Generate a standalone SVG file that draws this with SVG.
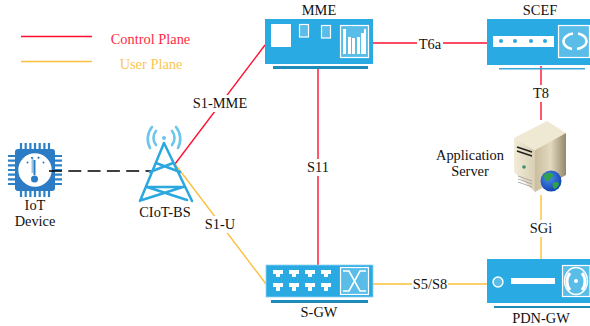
<svg xmlns="http://www.w3.org/2000/svg" width="590" height="326" viewBox="0 0 590 326">
<defs>
<linearGradient id="sf" x1="0" x2="1" y1="0" y2="0"><stop offset="0" stop-color="#f2ecd8"/><stop offset="1" stop-color="#d8cfb4"/></linearGradient>
<linearGradient id="ss" x1="0" x2="1" y1="0" y2="0"><stop offset="0" stop-color="#c9bd9c"/><stop offset="0.5" stop-color="#e2d9bf"/><stop offset="1" stop-color="#94886c"/></linearGradient>
<radialGradient id="gl" cx="0.4" cy="0.35" r="0.7"><stop offset="0" stop-color="#4f8cf0"/><stop offset="1" stop-color="#0d3fa8"/></radialGradient>
</defs>
<style>
text{font-family:"Liberation Serif","Times New Roman",serif;font-size:14.4px;fill:#111;text-anchor:middle}
.red{stroke:#ff0f2f;stroke-width:1.4;fill:none}
.yel{stroke:#fbbf3c;stroke-width:1.4;fill:none}
.box{fill:#2aaae2}
.bar{fill:#1d8cb8}
.w{fill:#fff}
.fr{fill:#5abde8;stroke:#fff;stroke-width:1.2}
.lb{fill:#fff}
.tw{stroke:#2aa8df;stroke-width:2.5;fill:none;stroke-linecap:round}
.ar{stroke:#6cc5ea;stroke-width:2.6;fill:none;stroke-linecap:round}
.pin{stroke:#2b82c8;stroke-width:2.2}
</style>
<g id="connectors">
<path class="red" d="M175 164L265 45"/>
<path class="yel" d="M175 164L266 284"/>
<path class="red" d="M318 69V265"/>
<path class="red" d="M373 43H487"/>
<path class="red" d="M541 66V120"/>
<path class="yel" d="M541 195V259"/>
<path class="yel" d="M373 284H487"/>
<rect class="lb" x="191" y="95" width="58" height="17"/><text x="220" y="108">S1-MME</text>
<rect class="lb" x="203" y="216" width="35" height="17"/><text x="220" y="229">S1-U</text>
<rect class="lb" x="305" y="159" width="26" height="17"/><text x="318" y="172">S11</text>
<rect class="lb" x="417" y="36" width="26" height="16"/><text x="430" y="49">T6a</text>
<rect class="lb" x="531" y="85" width="20" height="17"/><text x="541" y="98">T8</text>
<rect class="lb" x="528" y="220" width="26" height="17"/><text x="541" y="233">SGi</text>
<rect class="lb" x="412" y="276" width="36" height="17"/><text x="430" y="289">S5/S8</text>
</g>
<g id="legend">
<path class="red" d="M21 36.500H92"/>
<path class="yel" d="M21 61.500H92"/>
<text x="150.500" y="44" style="fill:#ff2a44">Control Plane</text>
<text x="151" y="69" style="fill:#fbc64f">User Plane</text>
</g>
<g id="iot-device">
<path class="pin" d="M21 143V197M25.700 143V197M30.400 143V197M35 143V197M39.700 143V197M44.400 143V197M49 143V197"/>
<path class="pin" d="M8 156H62M8 160.700H62M8 165.400H62M8 170H62M8 174.700H62M8 179.400H62M8 184H62"/>
<rect x="15" y="149" width="40" height="42" rx="3" fill="#2b7cc4"/>
<circle cx="35" cy="170" r="16.700" class="w"/>
<path d="M31.500 158h2v15h-2z" fill="#9cc3e0"/>
<circle cx="34.500" cy="179" r="3.500" fill="#2b7cc4"/>
<path d="M34.500 175V160" stroke="#2b7cc4" stroke-width="2"/>
<path d="M27 162l1 1M32 157v1.500M39 157l-1 1.500M44 162l-1 1" stroke="#2b7cc4" stroke-width="2"/>
<text x="35" y="210">IoT</text>
<text x="35" y="226">Device</text>
</g>
<path d="M49 171H152" stroke="#000" stroke-width="1.500" stroke-dasharray="13 6.300" fill="none"/>
<g id="ciot-bs">
<path class="tw" d="M164 143L140 201M164 143L192 201M156 163L180 172M173 163L150 172M147 187L187 200M183 187L142 200M147 187H184"/>
<path class="ar" d="M156 145a11 11 0 0 1 0-14M172 145a11 11 0 0 0 0-14M150 148a19 19 0 0 1 2-21M178 148a19 19 0 0 0-2-21"/>
<circle cx="164" cy="138" r="2" fill="#6cc5ea"/>
<text x="165" y="217">CIoT-BS</text>
</g>
<g id="mme">
<text x="319" y="15">MME</text>
<rect class="box" x="265" y="19" width="108" height="45"/>
<rect class="bar" x="273" y="66" width="95" height="3"/>
<rect class="w" x="271" y="24" width="20" height="23"/>
<rect class="fr" x="299.500" y="24.500" width="9" height="12.500"/>
<rect class="fr" x="321.500" y="25.500" width="9" height="12.500"/>
<rect class="fr" x="340.500" y="25.500" width="28" height="32"/>
<path class="w" d="M343 29h3v25h-3zM348 37h3v17h-3zM352 38h3v16h-3zM357 37h3v17h-3zM361 33h3v21h-3zM364 29h2v25h-2z"/>
</g>
<g id="scef">
<text x="540" y="15">SCEF</text>
<rect class="box" x="487" y="19" width="103" height="46"/>
<rect x="499" y="68" width="86" height="1.500" fill="#3aa8d6"/>
<rect class="w" x="493" y="36" width="61" height="11"/>
<g fill="#2aaae2"><circle cx="501" cy="41" r="2"/><circle cx="515" cy="41" r="2"/><circle cx="531" cy="41" r="2"/><circle cx="545" cy="41" r="2"/></g>
<rect class="fr" x="558.500" y="25.500" width="31" height="32"/>
<path d="M573 33.500A12 8 0 0 0 572 49M578 33.500A12 8 0 0 1 577 49" stroke="#fff" stroke-width="2.600" fill="none"/>
</g>
<g id="application-server">
<text x="470" y="160">Application</text>
<text x="470" y="176">Server</text>
<path d="M514 138L535 150V192L514 172Z" fill="url(#sf)"/>
<path d="M514 138L547 121L566 133L535 150Z" fill="#efe8d2"/>
<path d="M535 150L566 133V175L535 192Z" fill="url(#ss)"/>
<path d="M517 147L532 152M517 151L532 156" stroke="#222" stroke-width="1.800"/>
<circle cx="524" cy="167" r="1.800" fill="#3f8f6a"/>
<path d="M518 176L532 181M518 179L532 184M518 182L532 187" stroke="#999" stroke-width="0.800"/>
<circle cx="551" cy="181" r="10.500" fill="url(#gl)"/>
<path d="M544 175c3-3 8-3 9 0c0 3-3 3-4 6c-3 1-5-2-5-6zM553 183c3-2 6-1 6 1c-1 3-3 5-5 5c-1-2-2-4-1-6z" fill="#2fa24a"/>
</g>
<g id="s-gw">
<rect class="box" x="266" y="265" width="107" height="32" stroke="#8fd2ee" stroke-width="0.800"/>
<rect class="bar" x="271" y="300" width="97" height="3"/>
<g class="w">
<path d="M273 270h10v4h-3v3h-4v-3h-3zM289 270h10v4h-3v3h-4v-3h-3zM305 270h10v4h-3v3h-4v-3h-3zM321 270h10v4h-3v3h-4v-3h-3z"/>
<path d="M273 283h10v4h-3v4h-4v-4h-3zM289 283h10v4h-3v4h-4v-4h-3zM305 283h10v4h-3v4h-4v-4h-3zM321 283h10v4h-3v4h-4v-4h-3z"/>
</g>
<rect class="fr" x="340.500" y="267.500" width="28" height="27"/>
<path d="M343 271h6l11 20h6M343 291h6l11-20h6" stroke="#fff" stroke-width="1.600" fill="none"/>
<text x="319" y="317">S-GW</text>
</g>
<g id="pdn-gw">
<rect class="box" x="487" y="259" width="103" height="44"/>
<rect class="bar" x="494" y="306" width="96" height="2"/>
<circle cx="498" cy="282" r="5" fill="#5abde8" stroke="#fff" stroke-width="1.400"/>
<rect class="w" x="511" y="278" width="44" height="6"/>
<rect class="fr" x="562.500" y="265.500" width="27.500" height="31"/>
<ellipse cx="576" cy="281" rx="11.500" ry="13.500" fill="none" stroke="#fff" stroke-width="1.400"/>
<path d="M570 273c-4 5-4 12 0 17M582 273c4 5 4 12 0 17" stroke="#fff" stroke-width="3" fill="none"/>
<circle cx="576" cy="281" r="2" class="w"/>
<text x="541" y="323">PDN-GW</text>
</g>
</svg>
